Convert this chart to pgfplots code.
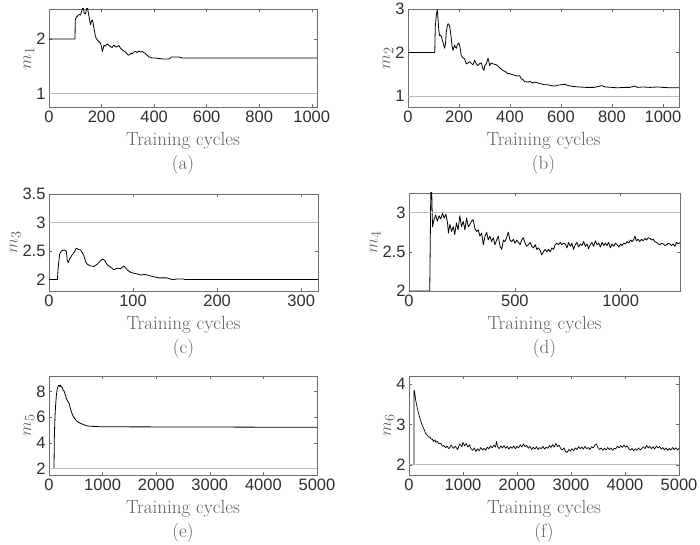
\documentclass[border=0pt]{standalone}
\usepackage{fontspec}
\usepackage{pgfplots}
\pgfplotsset{compat=1.18}
\newfontfamily\ticksf{Liberation Sans}
\definecolor{refgray}{RGB}{185,185,185}
\definecolor{axgray}{RGB}{110,110,110}
\definecolor{labgray}{RGB}{95,95,95}
\pgfplotsset{
  mstyle/.style={
    scale only axis, anchor=south west,
    axis line style={draw=axgray, line width=0.5pt},
    tick style={draw=axgray, line width=0.5pt},
    tick align=inside, major tick length=3pt, tick pos=both,
    tick label style={font=\ticksf\fontsize{16.5}{19}\selectfont, text=black!82},
    /pgf/number format/assume math mode=true,
    /pgf/number format/1000 sep={},
    scaled ticks=false,
    xlabel style={font=\fontsize{19}{24}\selectfont, text=labgray, align=center, yshift=-3pt},
    ylabel style={font=\fontsize{19}{20}\selectfont, text=labgray, yshift=-5pt},
    xmin=0,
  },
  curve/.style={black, line width=0.8pt, line join=round},
  refl/.style={refgray, line width=0.9pt},
}
\begin{document}
\begin{tikzpicture}
\useasboundingbox (0,0) rectangle (700pt,545pt);
% (a)
\begin{axis}[mstyle, at={(49pt,438pt)}, width=268pt, height=98pt,
  xmax=1020, ymin=0.75, ymax=2.55, xtick={0,200,...,1000}, ytick={1,2},
  xlabel={Training cycles\\(a)}, ylabel={$m_1$}]
\addplot[curve] coordinates {
(0,2) (99,2) (100,2.35) (104,2.40) (108,2.42) (114,2.45) (120,2.44) (125,2.52) (130,2.6) (134,2.47) (139,2.46) (143,2.55) (146,2.6) (149,2.50) (152,2.42) (158,2.26) (162,2.33) (165,2.35) (168,2.29) (171,2.20) (177,2.04) (181,2.00) (184,1.98) (190,1.95) (196,1.92) (200,1.85) (203,1.77) (206,1.82) (209,1.88) (215,1.87) (222,1.91) (228,1.88) (234,1.86) (240,1.84) (247,1.89) (253,1.85) (260,1.86) (266,1.88) (272,1.83) (279,1.80) (285,1.78) (291,1.76) (298,1.72) (304,1.70) (310,1.73) (317,1.73) (323,1.76) (329,1.77) (336,1.75) (342,1.78) (348,1.76) (355,1.77) (361,1.75) (367,1.73) (374,1.70) (380,1.67) (387,1.66) (393,1.65) (405,1.65) (418,1.64) (440,1.63) (456,1.63) (462,1.65) (466,1.67) (480,1.67) (494,1.67) (500,1.66) (507,1.65) (1020,1.65)};
\addplot[refl] coordinates {(0,1) (1020,1)};
\end{axis}
% (b)
\begin{axis}[mstyle, at={(408pt,438pt)}, width=271pt, height=98pt,
  xmax=1063, ymin=0.75, ymax=3, xtick={0,200,...,1000}, ytick={1,2,3},
  xlabel={Training cycles\\(b)}, ylabel={$m_2$}]
\addplot[curve] coordinates {
(0,2) (105,2) (107,2.6) (111,2.85) (115,2.98) (118,2.75) (121,2.50) (124,2.39) (128,2.40) (131,2.36) (134,2.30) (137,2.24) (141,2.15) (144,2.10) (147,2.20) (150,2.47) (154,2.60) (157,2.66) (160,2.65) (163,2.61) (166,2.50) (170,2.31) (173,2.15) (176,2.05) (180,2.12) (183,2.17) (186,2.12) (190,2.10) (193,2.18) (196,2.20) (199,2.22) (203,2.15) (206,2.05) (209,1.93) (216,1.88) (222,1.85) (225,1.80) (229,1.74) (235,1.76) (242,1.79) (248,1.75) (255,1.72) (261,1.82) (268,1.74) (274,1.70) (280,1.74) (288,1.76) (292,1.65) (298,1.59) (301,1.70) (307,1.74) (314,1.87) (317,1.80) (320,1.70) (324,1.74) (327,1.76) (333,1.74) (340,1.73) (346,1.72) (353,1.69) (359,1.65) (366,1.62) (372,1.59) (379,1.57) (385,1.55) (392,1.51) (398,1.52) (405,1.50) (418,1.48) (431,1.46) (438,1.47) (444,1.40) (451,1.38) (457,1.33) (464,1.33) (470,1.32) (477,1.34) (490,1.30) (497,1.32) (510,1.30) (523,1.28) (536,1.26) (549,1.26) (562,1.24) (575,1.23) (588,1.25) (600,1.26) (615,1.27) (630,1.24) (650,1.22) (670,1.21) (700,1.20) (730,1.20) (745,1.22) (760,1.24) (775,1.21) (800,1.20) (820,1.19) (850,1.20) (870,1.20) (890,1.23) (900,1.20) (920,1.21) (950,1.20) (980,1.21) (1000,1.20) (1030,1.19) (1063,1.19)};
\addplot[refl] coordinates {(0,1) (1063,1)};
\end{axis}
% (c)
\begin{axis}[mstyle, at={(49pt,254pt)}, width=269pt, height=97pt,
  xmax=320, ymin=1.8, ymax=3.5, xtick={0,100,200,300}, ytick={2,2.5,3,3.5},
  xlabel={Training cycles\\(c)}, ylabel={$m_3$}]
\addplot[curve] coordinates {
(0,2) (10,2) (11,2.22) (12.7,2.45) (14.6,2.50) (17.8,2.52) (20.6,2.50) (21.8,2.33) (23,2.30) (24.5,2.36) (26.9,2.42) (28.5,2.45) (30.9,2.50) (32.4,2.55) (34.8,2.53) (37.6,2.52) (39.6,2.47) (41.5,2.42) (43.5,2.32) (45.5,2.27) (49.5,2.24) (53.4,2.23) (57.4,2.27) (61.3,2.33) (64.1,2.36) (66.5,2.33) (69.2,2.26) (73.2,2.22) (77.2,2.17) (81.1,2.20) (85.1,2.19) (89,2.24) (93,2.17) (96.9,2.13) (100.9,2.11) (104.9,2.10) (108.8,2.08) (114.8,2.09) (118.7,2.07) (124.6,2.05) (130.6,2.03) (140,2.03) (147,2.00) (152,2.01) (160,2.01) (162,2.00) (320,2.00)};
\addplot[refl] coordinates {(0,3) (320,3)};
\end{axis}
% (d)
\begin{axis}[mstyle, at={(409pt,254pt)}, width=271pt, height=98pt,
  xmax=1280, ymin=2, ymax=3.25, xtick={0,500,1000}, ytick={2,2.5,3},
  xlabel={Training cycles\\(d)}, ylabel={$m_4$}]
\addplot[curve] coordinates {
(0,2) (98,2) (103,3.3) (107,3.3) (111,2.82) (118,2.91) (126,2.97) (134,2.89) (142,2.96) (150,2.92) (158,2.99) (166,2.93) (174,2.98) (182,2.87) (186,2.74) (193,2.85) (201,2.76) (209,2.82) (216,2.72) (224,2.87) (232,2.78) (240,2.96) (248,2.82) (256,2.89) (264,2.78) (272,2.93) (280,2.82) (288,2.85) (295,2.89) (303,2.91) (311,2.80) (319,2.76) (327,2.78) (335,2.70) (343,2.74) (351,2.59) (359,2.70) (367,2.75) (374,2.65) (382,2.70) (390,2.63) (398,2.68) (406,2.59) (414,2.65) (422,2.70) (430,2.57) (438,2.53) (446,2.65) (453,2.63) (461,2.68) (469,2.75) (477,2.65) (485,2.63) (493,2.66) (501,2.61) (509,2.65) (517,2.62) (525,2.59) (532,2.65) (540,2.68) (548,2.61) (556,2.57) (564,2.59) (572,2.62) (580,2.57) (588,2.55) (596,2.59) (604,2.53) (611,2.55) (619,2.52) (627,2.46) (635,2.50) (643,2.53) (651,2.50) (659,2.53) (667,2.50) (675,2.55) (683,2.53) (690,2.59) (698,2.61) (706,2.59) (714,2.62) (722,2.59) (730,2.61) (738,2.60) (746,2.55) (754,2.62) (762,2.57) (769,2.61) (777,2.53) (785,2.59) (793,2.62) (801,2.56) (809,2.60) (817,2.58) (825,2.63) (833,2.57) (841,2.60) (848,2.54) (856,2.59) (864,2.62) (872,2.57) (880,2.64) (888,2.59) (896,2.61) (904,2.56) (912,2.62) (920,2.58) (927,2.61) (935,2.58) (943,2.62) (951,2.55) (959,2.60) (967,2.57) (975,2.61) (983,2.59) (991,2.56) (999,2.60) (1006,2.58) (1014,2.61) (1022,2.60) (1030,2.63) (1038,2.61) (1046,2.65) (1054,2.63) (1062,2.66) (1067,2.70) (1074,2.64) (1082,2.66) (1090,2.63) (1098,2.66) (1106,2.64) (1114,2.67) (1122,2.65) (1130,2.68) (1138,2.67) (1146,2.65) (1153,2.66) (1161,2.63) (1169,2.62) (1177,2.60) (1185,2.59) (1193,2.61) (1201,2.60) (1209,2.58) (1217,2.59) (1225,2.61) (1232,2.60) (1240,2.58) (1248,2.60) (1256,2.57) (1264,2.62) (1272,2.60) (1280,2.62)};
\addplot[refl] coordinates {(0,3) (1280,3)};
\end{axis}
% (e)
\begin{axis}[mstyle, at={(49pt,70pt)}, width=268pt, height=99pt,
  xmax=5000, ymin=1.5, ymax=9.2, xtick={0,1000,...,5000}, ytick={2,4,6,8},
  xlabel={Training cycles\\(e)}, ylabel={$m_5$}]
\addplot[curve] coordinates {
(0,2) (93,2) (100,4.5) (112,6.1) (125,7.0) (137,7.67) (150,8.1) (162,8.3) (175,8.45) (187,8.49) (200,8.38) (210,8.48) (218,8.44) (230,8.35) (249,8.30) (262,8.1) (280,8.05) (295,7.85) (311,7.67) (325,7.45) (342,7.3) (355,7.2) (373,7.1) (390,6.85) (404,6.6) (420,6.4) (435,6.23) (450,6.08) (467,5.97) (498,5.79) (530,5.66) (560,5.58) (590,5.51) (622,5.46) (684,5.35) (746,5.30) (871,5.27) (1000,5.25) (2000,5.24) (3000,5.23) (4000,5.22) (5000,5.21)};
\addplot[refl] coordinates {(0,2) (5000,2)};
\end{axis}
% (f)
\begin{axis}[mstyle, at={(409pt,70pt)}, width=270pt, height=99pt,
  xmax=5000, ymin=1.75, ymax=4.2, xtick={0,1000,...,5000}, ytick={2,3,4},
  xlabel={Training cycles\\(f)}, ylabel={$m_6$}]
\addplot[curve, line width=0.7pt] coordinates {
(0,2) (92,2) (93,3.85) (105,3.80) (123,3.61) (136,3.52) (154,3.40) (173,3.30) (185,3.23) (204,3.15) (216,3.10) (234,3.02) (247,2.98) (265,2.92) (278,2.88) (296,2.82) (309,2.77) (327,2.76) (339,2.73) (358,2.70) (370,2.68) (389,2.69) (401,2.66) (420,2.63) (432,2.64) (450,2.58) (463,2.60) (481,2.62) (494,2.56) (524,2.58) (555,2.52) (586,2.54) (617,2.46) (648,2.48) (679,2.42)
(700,2.47) (740,2.40) (780,2.49) (820,2.41) (860,2.46) (900,2.38) (940,2.52) (980,2.45) (1000,2.56) (1030,2.47) (1060,2.53) (1090,2.44) (1120,2.50) (1150,2.40) (1180,2.36) (1210,2.42) (1240,2.33) (1270,2.40) (1300,2.35) (1330,2.43) (1360,2.37) (1390,2.41) (1420,2.36) (1450,2.44) (1480,2.40) (1510,2.47) (1540,2.42) (1570,2.49) (1600,2.44) (1620,2.58) (1640,2.45) (1670,2.40) (1700,2.47) (1730,2.42) (1760,2.48) (1790,2.41) (1820,2.46) (1850,2.39) (1880,2.45) (1910,2.41) (1940,2.47) (1970,2.40) (2000,2.46) (2030,2.42) (2060,2.50) (2090,2.44) (2120,2.52) (2150,2.45) (2180,2.48) (2210,2.41) (2240,2.46) (2270,2.38) (2300,2.44) (2330,2.39) (2360,2.45) (2390,2.38) (2420,2.43) (2450,2.40) (2480,2.46) (2510,2.39) (2540,2.44) (2570,2.41) (2600,2.48) (2630,2.43) (2660,2.50) (2690,2.44) (2720,2.53) (2750,2.45) (2780,2.49) (2810,2.40) (2840,2.37) (2870,2.42) (2900,2.33) (2930,2.31) (2960,2.38) (2990,2.34) (3020,2.40) (3050,2.35) (3080,2.42) (3110,2.38) (3140,2.45) (3170,2.40) (3200,2.44) (3230,2.39) (3260,2.46) (3290,2.40) (3320,2.43) (3350,2.38) (3380,2.45) (3410,2.42) (3440,2.49) (3470,2.52) (3500,2.43) (3530,2.38) (3560,2.42) (3590,2.36) (3620,2.41) (3650,2.37) (3680,2.43) (3710,2.38) (3740,2.42) (3770,2.36) (3800,2.41) (3830,2.40) (3860,2.46) (3890,2.42) (3920,2.48) (3950,2.43) (3980,2.49) (4010,2.44) (4040,2.47) (4070,2.40) (4100,2.36) (4130,2.41) (4160,2.35) (4190,2.40) (4220,2.36) (4250,2.42) (4280,2.37) (4310,2.40) (4340,2.45) (4370,2.40) (4400,2.48) (4430,2.42) (4460,2.46) (4490,2.40) (4520,2.45) (4550,2.39) (4580,2.47) (4610,2.42) (4640,2.46) (4670,2.39) (4700,2.43) (4730,2.37) (4760,2.42) (4790,2.36) (4820,2.41) (4850,2.37) (4880,2.43) (4910,2.38) (4940,2.42) (4970,2.37) (5000,2.41)};
\addplot[refl] coordinates {(0,2) (5000,2)};
\end{axis}
\end{tikzpicture}
\end{document}
